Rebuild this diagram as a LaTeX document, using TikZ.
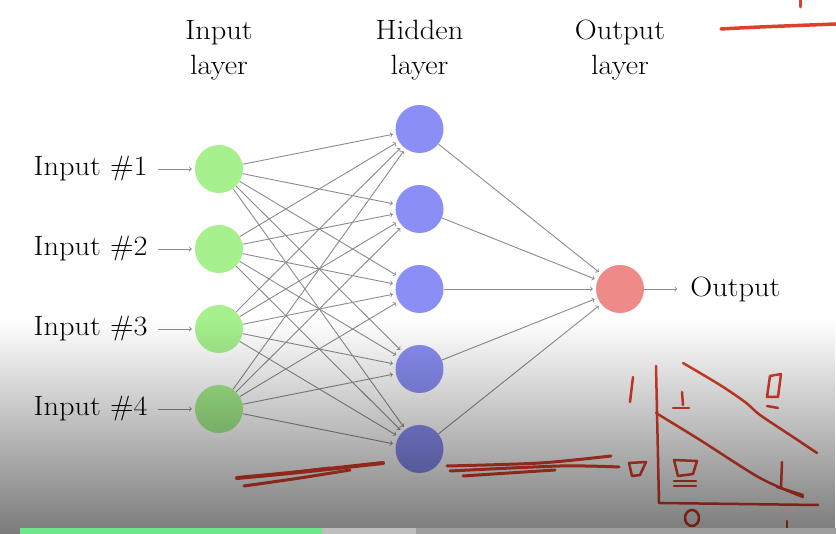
\documentclass[tikz,border=0pt]{standalone}
\usepackage{fontspec}
\setmainfont{Latin Modern Roman}[FakeStretch=1.09]
\usepackage{xcolor}
\usetikzlibrary{positioning,fadings}
\definecolor{inGreen}{HTML}{A6F08E}
\definecolor{hidBlue}{HTML}{8B8FF5}
\definecolor{outRed}{HTML}{EE8A88}
\definecolor{inkRed}{HTML}{E0402B}
\definecolor{barGreen}{HTML}{6EE68C}
\definecolor{barLight}{HTML}{BEBEBE}
\definecolor{barDark}{HTML}{9E9E9E}
\tikzfading[name=fadedown, top color=transparent!100, bottom color=transparent!0]
\tikzset{
  neuron/.style={circle, minimum size=48bp, inner sep=0pt},
  inneuron/.style={neuron, fill=inGreen},
  hidneuron/.style={neuron, fill=hidBlue},
  outneuron/.style={neuron, fill=outRed},
  layertext/.style={align=center, font=\fontsize{28}{35}\selectfont},
  pintext/.style={inner sep=10bp, font=\fontsize{28}{35}\selectfont},
  synapse/.style={draw=black!45, line width=0.9bp, ->, shorten >=3bp},
  ink/.style={draw=inkRed, line width=3bp, line cap=round, line join=round}
}

\begin{document}
\begin{tikzpicture}[x=1bp, y=1bp, node distance=80bp]
                        \useasboundingbox (0,0) rectangle (836,534);
                        \fill[white] (0,0) rectangle (836,534);

                        \node[inneuron] (i1) at (219,365) {};
                        \node[inneuron] (i2) [below of = i1] {};
                        \node[inneuron] (i3) [below of = i2] {};
                        \node[inneuron] (i4) [below of = i3] {};
                        \node[hidneuron] (h1) at (419.5,405) {};
                        \node[hidneuron] (h2) [below of = h1] {};
                        \node[hidneuron] (h3) [below of = h2] {};
                        \node[hidneuron] (h4) [below of = h3] {};
                        \node[hidneuron] (h5) [below of = h4] {};
                        \node[outneuron] (o) [right of = h3, node distance=200.5bp] {};

                        % layer titles
                        \node[layertext] (hl) [above of = h1, node distance=79bp] {Hidden\\layer};
                        \node[layertext] (il) [left of = hl, node distance=200.5bp] {Input\\layer};
                        \node[layertext] (ol) [right of = hl, node distance=200.5bp] {Output\\layer};

                        \node[pintext] (p1) [left=37bp of i1] {Input \#1};
                        \node[pintext] (p2) [left=37bp of i2] {Input \#2};
                        \node[pintext] (p3) [left=37bp of i3] {Input \#3};
                        \node[pintext] (p4) [left=37bp of i4] {Input \#4};
                        \node[pintext] (po) [right=36bp of o] {Output};

                        \path[synapse]
                            (p1) edge (i1)
                            (p2) edge (i2)
                            (p3) edge (i3)
                            (p4) edge (i4)
                            (o) edge (po)
                            (i1) edge (h1)
                            (i1) edge (h2)
                            (i1) edge (h3)
                            (i1) edge (h4)
                            (i1) edge (h5)
                            (i2) edge (h1)
                            (i2) edge (h2)
                            (i2) edge (h3)
                            (i2) edge (h4)
                            (i2) edge (h5)
                            (i3) edge (h1)
                            (i3) edge (h2)
                            (i3) edge (h3)
                            (i3) edge (h4)
                            (i3) edge (h5)
                            (i4) edge (h1)
                            (i4) edge (h2)
                            (i4) edge (h3)
                            (i4) edge (h4)
                            (i4) edge (h5)
                            (h1) edge (o)
                            (h2) edge (o)
                            (h3) edge (o)
                            (h4) edge (o)
                            (h5) edge (o)
                        ;

                        % handwriting
                        \draw[ink, line width=3.5bp] plot[smooth] coordinates {(721,505) (760,507) (836,510)};
                        \draw[ink] (800,534) -- (800,527);
                        \draw[ink, line width=4bp] plot[smooth] coordinates {(237,56) (300,62) (383,71)};
                        \draw[ink] plot[smooth] coordinates {(244,48) (300,56) (350,64)};
                        \draw[ink] plot[smooth] coordinates {(262,58) (330,66)};
                        \draw[ink] plot[smooth] coordinates {(447,68) (540,71) (611,78)};
                        \draw[ink] plot[smooth] coordinates {(450,63) (560,68) (619,67)};
                        \draw[ink] plot[smooth] coordinates {(463,58) (555,64)};
                        \draw[ink, line width=2.5bp] (633,157) -- (630,132);
                        \draw[ink, line width=2.5bp] (656,168) -- (659,31) -- (818,29);
                        \draw[ink, line width=2.5bp] plot[smooth] coordinates {(656,121) (700,94) (760,56) (803,37)};
                        \draw[ink, line width=2.5bp] (777,47) -- (803,39);
                        \draw[ink, line width=2.5bp] plot[smooth] coordinates {(683,171) (720,149) (745,132) (760,119) (790,99) (817,81)};
                        \draw[ink, line width=2.5bp] (682,142) -- (683,129);
                        \draw[ink, line width=2.5bp] (673,126) -- (689,126);
                        \draw[ink, line width=2.5bp] (770,158) -- (781,160) -- (778,137) -- (767,137) -- cycle;
                        \draw[ink, line width=2.5bp] (767,128) -- (778,126);
                        \draw[ink, line width=2.5bp] (629,71) -- (646,72) -- (640,59) -- (632,58) -- cycle;
                        \draw[ink, line width=2.5bp] (674,74) -- (697,73) -- (693,60) -- (678,58) -- cycle;
                        \draw[ink, line width=2.5bp] (674,53) -- (696,53);
                        \draw[ink, line width=2.5bp] (674,48) -- (696,48);
                        \draw[ink, line width=2.5bp] (782,72) -- (781,47);
                        \draw[ink, line width=2.5bp] (692,16) ellipse [x radius=7, y radius=8];
                        \draw[ink, line width=2.5bp] (787,13) -- (787,4);

                        % player shading and progress bar
                        \fill[black, opacity=0.52, path fading=fadedown] (0,0) rectangle (836,214);
                        \fill[barGreen] (20,0) rectangle (322,6);
                        \fill[barLight] (322,0) rectangle (416,6);
                        \fill[barDark] (416,0) rectangle (836,6);
                    \end{tikzpicture}
\end{document}
